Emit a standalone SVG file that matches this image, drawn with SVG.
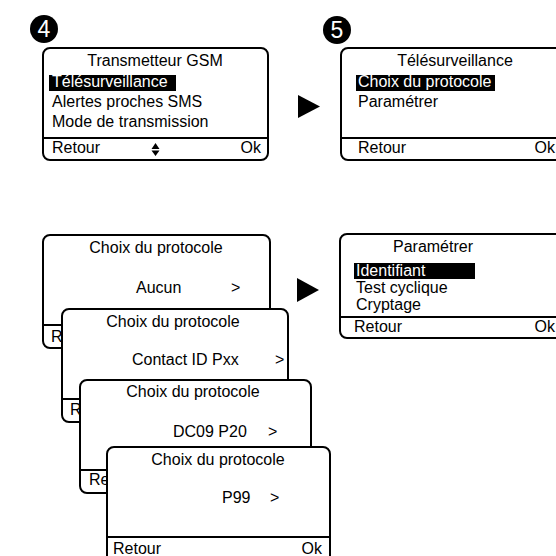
<svg xmlns="http://www.w3.org/2000/svg" width="556" height="556" viewBox="0 0 556 556">
<style>
text{font-family:"Liberation Sans",Arial,sans-serif;font-size:16px;fill:#000}
.box{fill:#fff;stroke:#000;stroke-width:2}
.sep{stroke:#000;stroke-width:2}
.hl{fill:#000}
.w{fill:#fff}
.mid{text-anchor:middle}
.end{text-anchor:end}
.num{font-size:23px;fill:#fff;text-anchor:middle}
</style>
<rect width="556" height="556" fill="#fff"/>
<g id="step4">
<circle cx="44" cy="29" r="14"/>
<text class="num" x="44" y="37">4</text>
</g>
<g id="step5">
<circle cx="337" cy="30" r="14"/>
<text class="num" x="337" y="38">5</text>
</g>
<g id="screen-gsm">
<rect class="box" x="43" y="48" width="225" height="112" rx="7"/>
<text class="mid" x="155" y="66">Transmetteur GSM</text>
<rect class="hl" x="49" y="75" width="127" height="16"/>
<text class="w" x="52" y="87">Télésurveillance</text>
<text x="52" y="107">Alertes proches SMS</text>
<text x="52" y="127">Mode de transmission</text>
<line class="sep" x1="43" y1="138" x2="268" y2="138"/>
<text x="52" y="153">Retour</text>
<path d="M155.5 143 L159.5 149 L151.5 149 Z M155.5 156 L159.5 150.5 L151.5 150.5 Z"/>
<text class="end" x="261" y="153">Ok</text>
</g>
<g id="screen-telesurveillance">
<rect class="box" x="341" y="48" width="225" height="112" rx="7"/>
<text class="mid" x="455" y="66">Télésurveillance</text>
<rect class="hl" x="356" y="75" width="139" height="16"/>
<text class="w" x="358" y="87">Choix du protocole</text>
<text x="358" y="107">Paramétrer</text>
<line class="sep" x1="341" y1="138" x2="566" y2="138"/>
<text x="358" y="153">Retour</text>
<text class="end" x="555" y="153">Ok</text>
</g>
<g id="screen-aucun">
<rect class="box" x="43" y="235" width="227" height="113" rx="7"/>
<text class="mid" x="156" y="253">Choix du protocole</text>
<text x="136" y="293">Aucun</text>
<text x="231" y="293">&gt;</text>
<line class="sep" x1="43" y1="325" x2="270" y2="325"/>
<text x="51" y="342">Retour</text>
</g>
<g id="screen-contactid">
<rect class="box" x="62" y="309" width="226" height="113" rx="7"/>
<text class="mid" x="173" y="327">Choix du protocole</text>
<text x="132" y="365">Contact ID Pxx</text>
<text x="275" y="365">&gt;</text>
<line class="sep" x1="62" y1="399" x2="288" y2="399"/>
<text x="70" y="415">Retour</text>
</g>
<g id="screen-dc09">
<rect class="box" x="80" y="380" width="231" height="113" rx="7"/>
<text class="mid" x="193" y="397">Choix du protocole</text>
<text x="173" y="437">DC09 P20</text>
<text x="268" y="437">&gt;</text>
<line class="sep" x1="80" y1="470" x2="311" y2="470"/>
<text x="89" y="485">Retour</text>
</g>
<g id="screen-p99">
<rect class="box" x="107" y="447" width="223" height="120" rx="7"/>
<text class="mid" x="218" y="465">Choix du protocole</text>
<text x="222" y="503">P99</text>
<text x="270" y="503">&gt;</text>
<line class="sep" x1="107" y1="537" x2="330" y2="537"/>
<text x="113" y="554">Retour</text>
<text class="end" x="322" y="554">Ok</text>
</g>
<g id="screen-parametrer">
<rect class="box" x="340" y="234" width="226" height="104" rx="7"/>
<text class="mid" x="433" y="252">Paramétrer</text>
<rect class="hl" x="354" y="263" width="121" height="16"/>
<text class="w" x="356" y="276">Identifiant</text>
<text x="356" y="293">Test cyclique</text>
<text x="356" y="310">Cryptage</text>
<line class="sep" x1="340" y1="317" x2="566" y2="317"/>
<text x="354" y="332">Retour</text>
<text class="end" x="555" y="332">Ok</text>
</g>
<g id="connectors">
<path d="M298 95 L320 106.5 L298 118 Z"/>
<path d="M297 278 L319 290 L297 302 Z"/>
</g>
</svg>
